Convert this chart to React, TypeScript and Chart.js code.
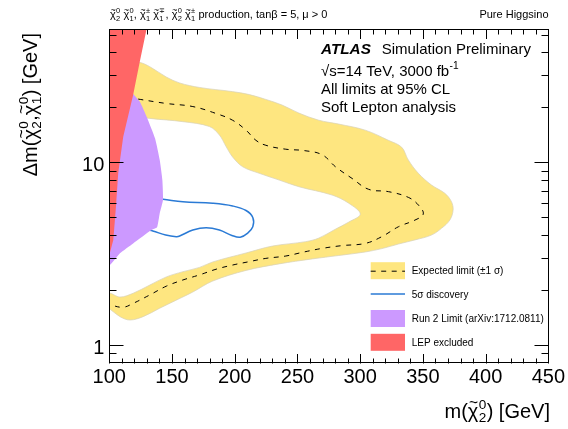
import React, { useEffect, useRef } from 'react';
import { Chart, registerables } from 'chart.js';

Chart.register(...registerables);

const FONT = '"Liberation Sans", Arial, Helvetica, sans-serif';

// ---- axis ticks ----
const xTickValues = [100, 150, 200, 250, 300, 350, 400, 450];
const xMinorTicks = [110, 120, 130, 140, 160, 170, 180, 190, 210, 220, 230, 240, 260, 270, 280, 290, 310, 320, 330, 340, 360, 370, 380, 390, 410, 420, 430, 440];
const yTickValues = [1, 10];
const yMinorTicks = [0.9, 2, 3, 4, 5, 6, 7, 8, 9, 20, 30, 40, 50];

// ---- Expected limit ±1σ band (closed contour) ----
const bandX = [96.6, 123.8, 132.3, 145.5, 156.1, 171.9, 198.1, 211.6, 224.8, 237.7, 251.2, 267.1, 282.9, 304.1, 322.5, 333.1, 338.4, 346.4, 356.9, 367.5, 372.8, 374.1, 371.5, 364.8, 356.9, 343.7, 330.5, 317.3, 304.1, 282.9, 261.8, 235.4, 209.0, 182.5, 166.6, 153.4, 140.2, 127.0, 116.4, 108.5, 100.6, 100.0, 100.0, 108.5, 119.0, 132.3, 145.5, 158.7, 171.9, 182.5, 209.0, 230.0, 256.5, 267.1, 279.8, 290.9, 300.1, 290.9, 277.6, 251.2, 235.4, 219.5, 206.3, 198.3, 193.1, 187.8, 179.8, 158.7, 132.3, 108.5, 96.6];
const bandY = [37.2, 35.3, 33.4, 29.3, 27.2, 25.7, 24.4, 23.5, 22.1, 20.6, 18.6, 17.0, 16.2, 15.0, 13.2, 12.1, 10.3, 8.71, 7.51, 6.77, 6.09, 5.48, 4.83, 4.35, 4.00, 3.76, 3.57, 3.37, 3.23, 3.09, 2.96, 2.78, 2.56, 2.24, 1.95, 1.76, 1.59, 1.43, 1.37, 1.43, 1.57, 1.57, 1.91, 1.83, 1.92, 2.13, 2.36, 2.52, 2.66, 2.85, 3.19, 3.48, 3.68, 3.85, 4.29, 4.71, 5.21, 5.97, 6.62, 7.35, 8.00, 8.71, 9.46, 10.7, 12.2, 14.1, 15.7, 16.7, 17.4, 18.4, 18.8];

// ---- Expected limit (dashed) ----
const expX = [123.0, 145.5, 166.6, 185.2, 198.3, 209.0, 216.9, 224.8, 240.7, 255.2, 269.7, 280.3, 293.5, 306.7, 322.6, 338.4, 346.4, 350.3, 343.7, 330.5, 317.3, 304.1, 285.5, 269.7, 255.2, 240.7, 224.8, 211.6, 198.3, 185.2, 171.9, 158.7, 145.5, 132.3, 119.0, 111.1, 101.9, 100.0];
const expY = [22.2, 21.0, 20.2, 18.5, 17.0, 15.0, 13.2, 12.4, 11.8, 11.6, 11.0, 9.46, 8.17, 7.12, 6.91, 6.43, 5.84, 5.21, 4.83, 4.44, 3.92, 3.60, 3.50, 3.38, 3.23, 3.07, 2.98, 2.86, 2.74, 2.60, 2.42, 2.27, 2.10, 1.88, 1.69, 1.61, 1.65, 1.67];

// ---- 5σ discovery ----
const discX = [138.0, 142.8, 158.7, 182.5, 198.3, 209.0, 214.4, 214.4, 210.2, 204.4, 197.7, 187.8, 177.2, 166.6, 156.1, 153.4, 145.0, 134.7, 130.7];
const discY = [6.30, 6.27, 6.09, 5.97, 5.77, 5.45, 4.99, 4.44, 4.09, 3.89, 3.98, 4.26, 4.39, 4.26, 3.95, 3.92, 4.00, 4.21, 4.26];

// ---- Run 2 limit ----
const run2X = [119.0, 124.3, 129.7, 136.5, 140.2, 142.3, 142.8, 140.2, 138.1, 133.6, 119.0, 108.5, 100.0, 100.0];
const run2Y = [23.65, 21.5, 17.8, 13.5, 10.3, 8.0, 6.22, 5.26, 4.41, 4.26, 3.60, 3.18, 2.74, 23.65];

// ---- LEP excluded ----
const lepX = [100.0, 129.7, 124.3, 119.0, 111.1, 107.1, 105.3, 103.2, 100.0];
const lepY = [53.5, 53.5, 35.5, 23.4, 13.8, 8.71, 5.71, 3.76, 3.11];

const legendLabels = ['Expected limit (\u00b11 \u03c3)', '5\u03c3 discovery', 'Run 2 Limit (arXiv:1712.0811)', 'LEP excluded'];

const COL_BAND = '#fee680';
const COL_RUN2 = '#cc99ff';
const COL_LEP = '#ff6666';
const COL_DISC = '#2a7ad5';

const pts = (xs: number[], ys: number[]) => xs.map((x, i) => ({ x, y: ys[i] }));

type Part = { t: string; sup?: string; sub?: string; bold?: boolean; italic?: boolean; tilde?: boolean };

const CHI = '\u03c7';

function drawRich(ctx: CanvasRenderingContext2D, parts: Part[], x: number, y: number, size: number, align: 'left' | 'right') {
  const ss = size * 0.68;
  const mainFont = (p: Part) => `${p.italic ? 'italic ' : ''}${p.bold ? 'bold ' : ''}${size}px ${FONT}`;
  const widths = parts.map((p) => {
    ctx.font = mainFont(p);
    let w = ctx.measureText(p.t).width;
    if (p.sup || p.sub) {
      ctx.font = `${ss}px ${FONT}`;
      w += Math.max(p.sup ? ctx.measureText(p.sup).width : 0, p.sub ? ctx.measureText(p.sub).width : 0) + size * 0.04;
    }
    return w;
  });
  const total = widths.reduce((a, b) => a + b, 0);
  let cx = align === 'right' ? x - total : x;
  ctx.textBaseline = 'alphabetic';
  parts.forEach((p, i) => {
    ctx.textAlign = 'left';
    ctx.font = mainFont(p);
    ctx.fillText(p.t, cx, y);
    const tw = ctx.measureText(p.t).width;
    if (p.tilde) {
      ctx.font = `${size * 0.78}px ${FONT}`;
      ctx.textAlign = 'center';
      ctx.fillText('~', cx + tw * 0.55, y - size * 0.47);
      ctx.textAlign = 'left';
    }
    if (p.sup || p.sub) {
      ctx.font = `${ss}px ${FONT}`;
      if (p.sup) ctx.fillText(p.sup, cx + tw + size * 0.02, y - size * 0.42);
      if (p.sub) ctx.fillText(p.sub, cx + tw + size * 0.02, y + size * 0.24);
    }
    cx += widths[i];
  });
}

const chi = (sup: string, sub: string): Part => ({ t: CHI, tilde: true, sup, sub });

const decorPlugin = {
  id: 'decor',
  afterDraw(chart: any) {
    const { ctx, chartArea: a, scales } = chart;
    const xs = scales.x;
    const ys = scales.y;
    ctx.save();
    ctx.strokeStyle = '#000';
    ctx.lineWidth = 1;
    // frame
    ctx.strokeRect(Math.round(a.left) + 0.5, Math.round(a.top) + 0.5, Math.round(a.right - a.left), Math.round(a.bottom - a.top));
    ctx.beginPath();
    const bx = (v: number) => Math.round(xs.getPixelForValue(v)) + 0.5;
    const by = (v: number) => Math.round(ys.getPixelForValue(v)) + 0.5;
    const T = Math.round(a.top) + 0.5;
    const B = Math.round(a.bottom) + 0.5;
    const L = Math.round(a.left) + 0.5;
    const R = Math.round(a.right) + 0.5;
    xTickValues.forEach((v) => {
      const p = bx(v);
      ctx.moveTo(p, B); ctx.lineTo(p, B - 9.5);
      ctx.moveTo(p, T); ctx.lineTo(p, T + 9.5);
    });
    xMinorTicks.forEach((v) => {
      const p = bx(v);
      ctx.moveTo(p, B); ctx.lineTo(p, B - 5);
      ctx.moveTo(p, T); ctx.lineTo(p, T + 5);
    });
    yTickValues.forEach((v) => {
      const p = by(v);
      ctx.moveTo(L, p); ctx.lineTo(L + 14, p);
      ctx.moveTo(R, p); ctx.lineTo(R - 14, p);
    });
    yMinorTicks.forEach((v) => {
      const p = by(v);
      ctx.moveTo(L, p); ctx.lineTo(L + 7, p);
      ctx.moveTo(R, p); ctx.lineTo(R - 7, p);
    });
    ctx.stroke();

    ctx.fillStyle = '#000';
    // header
    drawRich(ctx, [
      chi('0', '2'), { t: ' ' }, chi('0', '1'), { t: ', ' },
      chi('\u00b1', '1'), { t: ' ' }, chi('\u2213', '1'), { t: ', ' },
      chi('0', '2'), { t: ' ' }, chi('\u00b1', '1'),
      { t: ' production, tan\u03b2 = 5, \u03bc > 0' },
    ], 110, 18, 11, 'left');
    drawRich(ctx, [{ t: 'Pure Higgsino' }], 548.5, 18, 11, 'right');

    // ATLAS label block
    drawRich(ctx, [{ t: 'ATLAS', bold: true, italic: true }], 321, 54.3, 15.3, 'left');
    drawRich(ctx, [{ t: 'Simulation Preliminary' }], 381.7, 54.3, 15, 'left');
    drawRich(ctx, [{ t: '\u221as=14 TeV, 3000 fb', sup: '-1' }], 321, 75.7, 15, 'left');
    drawRich(ctx, [{ t: 'All limits at 95% CL' }], 321, 93.7, 15, 'left');
    drawRich(ctx, [{ t: 'Soft Lepton analysis' }], 321, 112.3, 15, 'left');

    // axis titles
    drawRich(ctx, [{ t: 'm(' }, chi('0', '2'), { t: ') [GeV]' }], 550, 417.5, 20, 'right');
    ctx.save();
    ctx.translate(36.5, 33);
    ctx.rotate(-Math.PI / 2);
    drawRich(ctx, [{ t: '\u0394m(' }, chi('0', '2'), { t: ',' }, chi('0', '1'), { t: ') [GeV]' }], 0, 0, 20, 'right');
    ctx.restore();

    // legend
    const sx0 = 370.7;
    const sx1 = 405;
    const rows = [270.7, 294, 318.5, 342.3];
    ctx.fillStyle = COL_BAND;
    ctx.fillRect(sx0, rows[0] - 8.5, sx1 - sx0, 17);
    ctx.strokeStyle = '#000';
    ctx.lineWidth = 1;
    ctx.setLineDash([5, 5.5]);
    ctx.beginPath();
    ctx.moveTo(sx0, rows[0] + 0.5); ctx.lineTo(sx1, rows[0] + 0.5);
    ctx.stroke();
    ctx.setLineDash([]);
    ctx.strokeStyle = COL_DISC;
    ctx.lineWidth = 1.5;
    ctx.beginPath();
    ctx.moveTo(sx0, rows[1]); ctx.lineTo(sx1, rows[1]);
    ctx.stroke();
    ctx.fillStyle = COL_RUN2;
    ctx.fillRect(sx0, rows[2] - 8.5, sx1 - sx0, 17);
    ctx.fillStyle = COL_LEP;
    ctx.fillRect(sx0, rows[3] - 8.5, sx1 - sx0, 17);
    ctx.fillStyle = '#000';
    legendLabels.forEach((lab, i) => {
      drawRich(ctx, [{ t: lab }], 411.7, rows[i] + 3.6, 10, 'left');
    });
    ctx.restore();
  },
};

export default function App() {
  const ref = useRef<HTMLCanvasElement | null>(null);
  useEffect(() => {
    if (!ref.current) return;
    const chart = new Chart(ref.current, {
      type: 'scatter',
      data: {
        datasets: [
          {
            label: 'LEP excluded', data: pts(lepX, lepY), showLine: true, fill: 'shape',
            backgroundColor: COL_LEP, borderColor: COL_LEP, borderWidth: 0, tension: 0, order: 1, pointRadius: 0,
          },
          {
            label: 'Run 2 Limit', data: pts(run2X, run2Y), showLine: true, fill: 'shape',
            backgroundColor: COL_RUN2, borderColor: COL_RUN2, borderWidth: 0, tension: 0.15, order: 2, pointRadius: 0,
          },
          {
            label: '5σ discovery', data: pts(discX, discY), showLine: true, fill: false,
            borderColor: COL_DISC, borderWidth: 1.5, tension: 0.4, order: 3, pointRadius: 0,
          },
          {
            label: 'Expected limit', data: pts(expX, expY), showLine: true, fill: false,
            borderColor: '#000', borderWidth: 1, borderDash: [5, 5.5], tension: 0.4, order: 4, pointRadius: 0,
          },
          {
            label: 'Expected ±1σ', data: pts(bandX, bandY), showLine: true, fill: 'shape',
            backgroundColor: COL_BAND, borderColor: 'rgba(215,210,185,0.7)', borderWidth: 1, tension: 0.35, order: 5, pointRadius: 0,
          },
        ],
      },
      options: {
        responsive: false,
        animation: false,
        events: [],
        layout: { padding: { top: 29.3, right: 17.3, left: 0, bottom: 0 } },
        plugins: { legend: { display: false }, tooltip: { enabled: false }, title: { display: false } },
        scales: {
          x: {
            type: 'linear', min: 100, max: 450,
            afterBuildTicks: (s: any) => { s.ticks = xTickValues.map((v) => ({ value: v })); },
            afterFit: (s: any) => { s.height = 66.3; },
            ticks: { font: { size: 20, family: FONT }, color: '#000', padding: 3, maxRotation: 0, autoSkip: false, callback: (v: any) => String(v) },
            grid: { display: false, drawTicks: false },
            border: { display: false },
          },
          y: {
            type: 'logarithmic', min: 0.8, max: 53.5,
            afterBuildTicks: (s: any) => { s.ticks = yTickValues.map((v) => ({ value: v })); },
            afterFit: (s: any) => { s.width = 109.3; },
            ticks: { font: { size: 20, family: FONT }, color: '#000', padding: 5, labelOffset: 3, autoSkip: false, callback: (v: any) => String(v) },
            grid: { display: false, drawTicks: false },
            border: { display: false },
          },
        },
      } as any,
      plugins: [decorPlugin],
    });
    return () => chart.destroy();
  }, []);
  return (
    <div style={{ position: 'fixed', left: 0, top: 0, width: 568, height: 429, background: '#fff' }}>
      <canvas ref={ref} width={568} height={429} style={{ width: 568, height: 429, display: 'block' }} />
    </div>
  );
}
